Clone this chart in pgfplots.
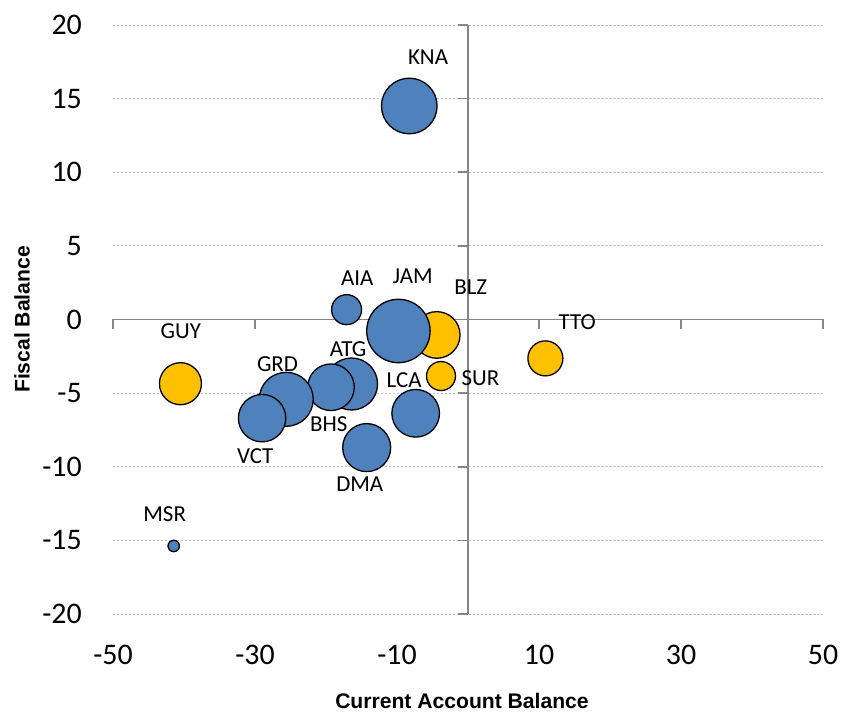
\documentclass[border=0pt]{standalone}
\usepackage{fontspec}
\setmainfont{Carlito}
\setsansfont{Liberation Sans}
\usepackage{pgfplots}
\usepackage{pgfplotstable}
\pgfplotsset{compat=1.18}

\definecolor{bubblue}{HTML}{4F81BD}
\definecolor{bubgold}{HTML}{FFC000}
\definecolor{axisgray}{HTML}{868686}
\definecolor{gridgray}{HTML}{BFBFBF}

% x = current account balance, y = fiscal balance, r = bubble radius (bp)
\pgfplotstableread{
name x y r
GUY -40.5 -4.36 21.0
BLZ -4.4 -1.05 23.3
SUR -3.8 -3.84 14.5
TTO 10.9 -2.64 17.5
}\goldgroup

\pgfplotstableread{
name x y r
KNA -8.27 14.5 27.8
AIA -17.1 0.67 15.0
JAM -9.8 -0.78 31.7
LCA -7.37 -6.37 23.8
DMA -14.27 -8.7 24.0
ATG -16.4 -4.38 26.0
BHS -19.3 -4.6 23.3
GRD -25.6 -5.42 27.0
VCT -29.0 -6.7 23.7
MSR -41.45 -15.38 5.7
}\bluegroup

\newcommand{\ticklabfont}{\fontsize{30}{30}\selectfont}
\newcommand{\bublabfont}{\fontsize{23}{23}\selectfont}
\newcommand{\titlefont}{\sffamily\bfseries\fontsize{21.2}{21.2}\selectfont}

\begin{document}
\begin{tikzpicture}
\begin{axis}[
  scale only axis,
  width=710bp, height=589bp,
  xmin=-50, xmax=50, ymin=-20, ymax=20,
  axis line style={draw=none},
  tick style={draw=none},
  major tick length=0pt,
  xtick={-50,-30,-10,10,30,50},
  xticklabels={-50,-30,-10,10,30,50},
  ytick={-20,-15,-10,-5,0,5,10,15,20},
  yticklabels={-20,-15,-10,-5,0,5,10,15,20},
  xticklabel style={font=\ticklabfont, anchor=north, inner sep=0pt, yshift=-31bp},
  yticklabel style={font=\ticklabfont, anchor=east, inner sep=0pt, xshift=-31bp},
  ymajorgrids,
  grid style={gridgray, line width=0.8bp, dash pattern=on 2.5bp off 1.5bp},
  clip=false,
]
  % axes crossing at the origin
  \draw[axisgray, line width=1.6bp] (axis cs:-50,0) -- (axis cs:50,0);
  \draw[axisgray, line width=1.6bp] (axis cs:0,-20) -- (axis cs:0,20);
  \pgfplotsinvokeforeach{-50,-30,-10,10,30,50}{
    \draw[axisgray, line width=1.6bp] (axis cs:#1,0) -- ([yshift=-10bp]axis cs:#1,0);
  }
  \pgfplotsinvokeforeach{-20,-15,-10,-5,0,5,10,15,20}{
    \draw[axisgray, line width=1.6bp] (axis cs:0,#1) -- ([xshift=-10bp]axis cs:0,#1);
  }

  \addplot[
    scatter, only marks, mark=*,
    scatter/use mapped color={draw=black, fill=bubgold},
    mark options={line width=1.3bp},
    visualization depends on={\thisrow{r} \as \rad},
    scatter/@pre marker code/.append style={/tikz/mark size=\rad bp},
  ] table[x=x, y=y] {\goldgroup};

  \addplot[
    scatter, only marks, mark=*,
    scatter/use mapped color={draw=black, fill=bubblue},
    mark options={line width=1.3bp},
    visualization depends on={\thisrow{r} \as \rad},
    scatter/@pre marker code/.append style={/tikz/mark size=\rad bp},
  ] table[x=x, y=y] {\bluegroup};

  % country labels
  \begin{scope}[every node/.style={font=\bublabfont, inner sep=0pt}]
    \node at (axis cs:-5.63,17.82) {KNA};
    \node at (axis cs:-15.6,2.82) {AIA};
    \node at (axis cs:-7.77,2.97) {JAM};
    \node at (axis cs:0.38,2.17) {BLZ};
    \node at (axis cs:15.38,-0.2) {TTO};
    \node at (axis cs:1.76,-4.0) {SUR};
    \node at (axis cs:-8.99,-4.1) {LCA};
    \node at (axis cs:-16.9,-1.98) {ATG};
    \node at (axis cs:-26.83,-3.0) {GRD};
    \node at (axis cs:-19.62,-7.08) {BHS};
    \node at (axis cs:-29.96,-9.3) {VCT};
    \node at (axis cs:-15.25,-11.15) {DMA};
    \node at (axis cs:-40.45,-0.77) {GUY};
    \node at (axis cs:-42.72,-13.19) {MSR};
  \end{scope}

  % axis titles
  \node[font=\titlefont, inner sep=0pt] at ([xshift=-6bp, yshift=-86.5bp]rel axis cs:0.5,0) {Current Account Balance};
  \node[font=\titlefont, inner sep=0pt, rotate=90] at ([xshift=-91bp]rel axis cs:0,0.5) {Fiscal Balance};
\end{axis}
\pgfresetboundingbox
\path ([shift={(-113bp,-99bp)}]current axis.south west) rectangle ([shift={(19bp,25bp)}]current axis.north east);
\end{tikzpicture}
\end{document}
